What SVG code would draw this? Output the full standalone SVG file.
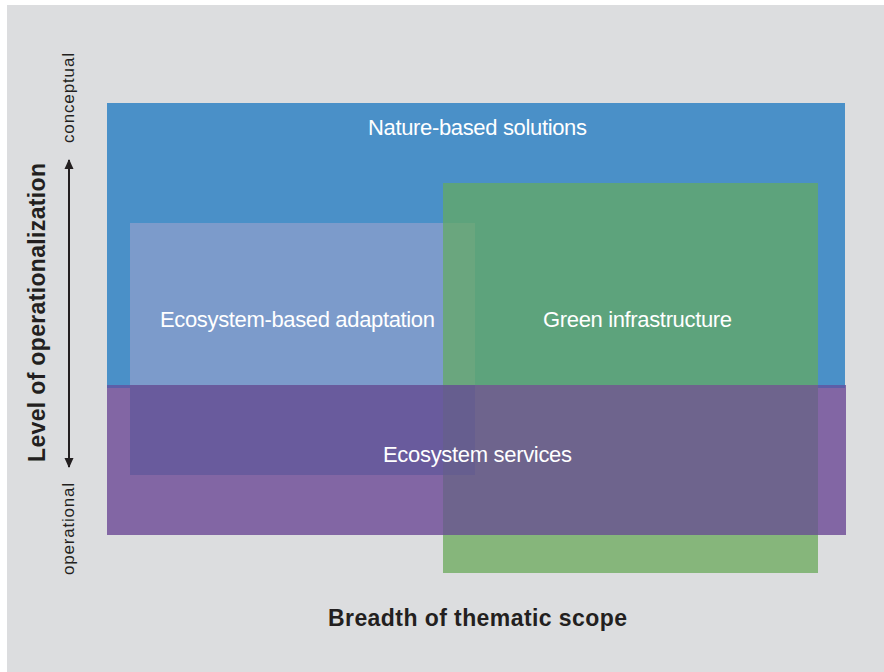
<svg xmlns="http://www.w3.org/2000/svg" width="884" height="672" viewBox="0 0 884 672">
  <defs>
    <marker id="ah" viewBox="0 0 10 10" refX="9" refY="5" markerWidth="10" markerHeight="10" markerUnits="userSpaceOnUse" orient="auto-start-reverse">
      <path d="M0,0.5 L10,5 L0,9.5 Z" fill="#231f20"/>
    </marker>
    <style>
      .lbl { font-family: "Liberation Sans", Arial, sans-serif; font-size: 22px; fill: #ffffff; }
      .ax { font-family: "Liberation Sans", Arial, sans-serif; font-size: 17px; fill: #231f20; }
      .axb { font-family: "Liberation Sans", Arial, sans-serif; font-size: 23px; font-weight: bold; fill: #231f20; }
    </style>
  </defs>
  <rect x="0" y="0" width="884" height="672" fill="#ffffff"/>
  <rect x="7" y="5" width="877" height="667" fill="#dcdddf"/>

  <g id="nbs">
    <rect x="107" y="103" width="738" height="285" fill="#4a90c8"/>
  </g>
  <g id="es">
    <rect x="107" y="385" width="739" height="150" fill="#8266a4"/>
    <rect x="107" y="385" width="23" height="3" fill="#5d5ea8"/>
    <rect x="818" y="385" width="27" height="3" fill="#5d5ea8"/>
  </g>
  <g id="gi">
    <rect x="443" y="183" width="375" height="390" fill="#86b67b"/>
    <rect x="443" y="183" width="375" height="202" fill="#5da37c"/>
    <rect x="443" y="385" width="375" height="150" fill="#6e648d"/>
  </g>
  <g id="eba">
    <rect x="130" y="223" width="313" height="162" fill="#7c9bcb"/>
    <rect x="443" y="223" width="32" height="162" fill="#6aa67e"/>
    <rect x="130" y="385" width="313" height="90" fill="#695b9d"/>
    <rect x="443" y="385" width="32" height="90" fill="#665e8f"/>
  </g>

  <g id="labels">
    <text class="lbl" x="368" y="135" textLength="219" lengthAdjust="spacing">Nature-based solutions</text>
    <text class="lbl" x="160" y="327" textLength="275" lengthAdjust="spacing">Ecosystem-based adaptation</text>
    <text class="lbl" x="543" y="327" textLength="189" lengthAdjust="spacing">Green infrastructure</text>
    <text class="lbl" x="383" y="462" textLength="189" lengthAdjust="spacing">Ecosystem services</text>
  </g>

  <g id="axes">
    <text class="axb" x="328" y="626" textLength="299" lengthAdjust="spacing">Breadth of thematic scope</text>
    <text class="axb" transform="translate(45,462) rotate(-90)" x="0" y="0" textLength="299" lengthAdjust="spacing">Level of operationalization</text>
    <text class="ax" transform="translate(74,143) rotate(-90)" x="0" y="0" textLength="90" lengthAdjust="spacing">conceptual</text>
    <text class="ax" transform="translate(74,575) rotate(-90)" x="0" y="0" textLength="92" lengthAdjust="spacing">operational</text>
  </g>

  <g id="connectors">
    <line x1="69" y1="160" x2="69" y2="467" stroke="#231f20" stroke-width="2" marker-start="url(#ah)" marker-end="url(#ah)"/>
  </g>
</svg>
